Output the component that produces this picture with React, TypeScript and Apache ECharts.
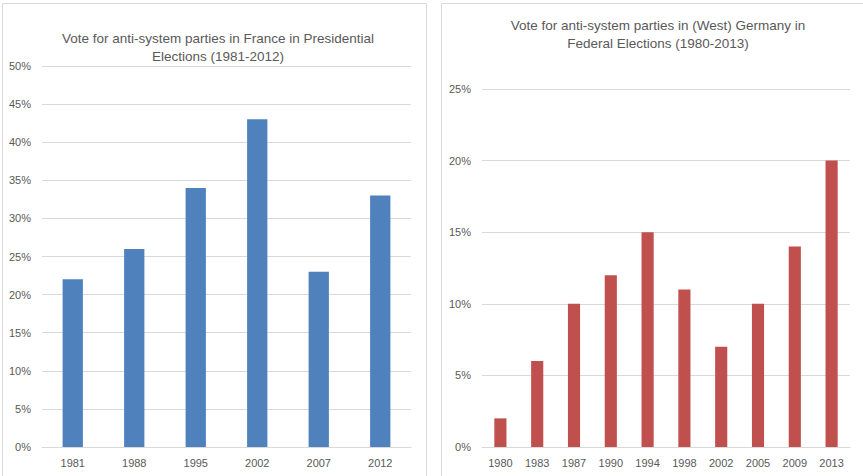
import React, { useEffect, useRef } from "react";
import * as echarts from "echarts";

const franceYears = ["1981", "1988", "1995", "2002", "2007", "2012"];
const franceValues = [22, 26, 34, 43, 23, 33];
const germanyYears = ["1980", "1983", "1987", "1990", "1994", "1998", "2002", "2005", "2009", "2013"];
const germanyValues = [2, 6, 10, 12, 15, 11, 7, 10, 14, 20];
const franceTitle = "Vote for anti-system parties in France in Presidential\nElections (1981-2012)";
const germanyTitle = "Vote for anti-system parties in (West) Germany in\nFederal Elections (1980-2013)";

const FONT = "'Liberation Sans', Arial, sans-serif";
const TXT = "#595959";
const GRID = "#d9d9d9";

export default function App() {
  const ref = useRef<HTMLDivElement>(null);
  useEffect(() => {
    if (!ref.current) return;
    const chart = echarts.init(ref.current, undefined, { renderer: "svg" });
    const xAxisCommon = {
      type: "category" as const,
      axisTick: { show: false },
      axisLine: { show: true, lineStyle: { color: GRID, width: 1 } },
      axisLabel: { color: TXT, fontSize: 11, fontFamily: FONT, margin: 10 },
    };
    const yAxisCommon = {
      type: "value" as const,
      min: 0,
      interval: 5,
      axisLine: { show: false },
      axisTick: { show: false },
      splitLine: { lineStyle: { color: GRID, width: 1 } },
      axisLabel: { color: TXT, fontSize: 11, fontFamily: FONT, formatter: "{value}%", margin: 11 },
    };
    const titleStyle = { color: TXT, fontSize: 13.5, fontWeight: "normal", fontFamily: FONT, lineHeight: 18 };
    chart.setOption({
      animation: false,
      backgroundColor: "#ffffff",
      title: [
        { text: franceTitle, left: 213, top: 24, textAlign: "center", textStyle: titleStyle },
        { text: germanyTitle, left: 653, top: 11, textAlign: "center", textStyle: titleStyle },
      ],
      graphic: [
        { type: "rect", shape: { x: 2.5, y: 3.5, width: 424, height: 480 }, style: { fill: "none", stroke: GRID, lineWidth: 1 } },
        { type: "rect", shape: { x: 441.5, y: 3.5, width: 430, height: 480 }, style: { fill: "none", stroke: GRID, lineWidth: 1 } },
      ],
      grid: [
        { left: 42, right: 452, top: 66, bottom: 29 },
        { left: 482, right: 13, top: 89, bottom: 29 },
      ],
      xAxis: [
        { ...xAxisCommon, gridIndex: 0, data: franceYears },
        { ...xAxisCommon, gridIndex: 1, data: germanyYears },
      ],
      yAxis: [
        { ...yAxisCommon, gridIndex: 0, max: 50 },
        { ...yAxisCommon, gridIndex: 1, max: 25 },
      ],
      series: [
        { type: "bar", xAxisIndex: 0, yAxisIndex: 0, data: franceValues, barWidth: "33%", itemStyle: { color: "#4f81bd" } },
        { type: "bar", xAxisIndex: 1, yAxisIndex: 1, data: germanyValues, barWidth: "33%", itemStyle: { color: "#c0504d" } },
      ],
    });
    return () => chart.dispose();
  }, []);
  return (
    <div
      ref={ref}
      style={{ position: "fixed", left: 0, top: 0, width: 863, height: 476, background: "#fff" }}
    />
  );
}
